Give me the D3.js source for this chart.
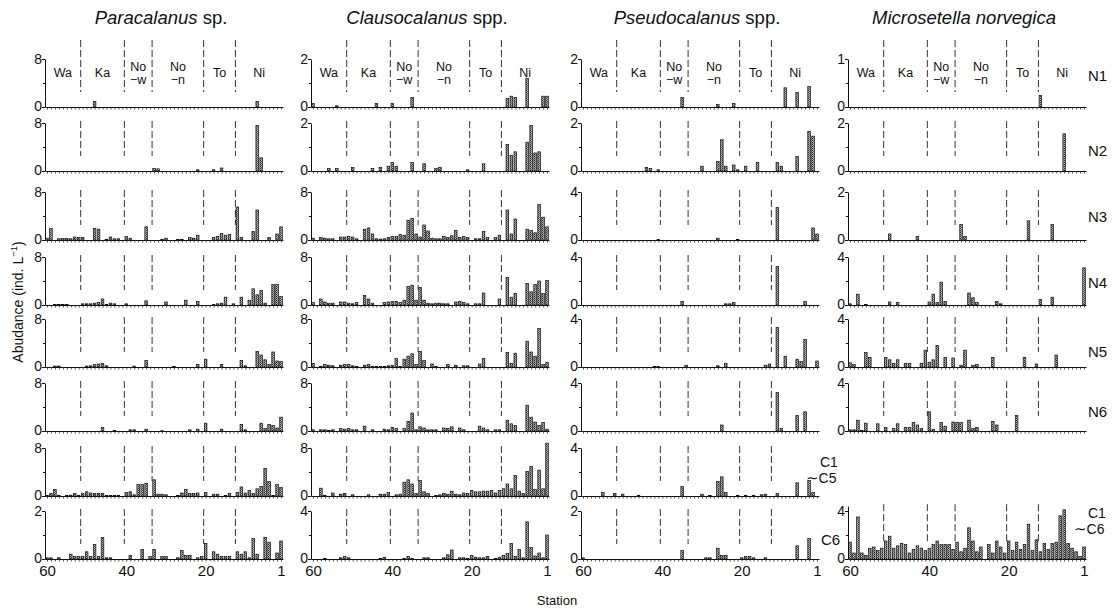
<!DOCTYPE html>
<html>
<head>
<meta charset="utf-8">
<script src="https://cdn.jsdelivr.net/npm/d3@7"></script>
<style>
  body { margin: 0; background: #fff; }
  text { font-family: "Liberation Sans", Arial, sans-serif; fill: #111; }
</style>
</head>
<body>
<svg id="chart" width="1115" height="614"></svg>
<script>
// stations run 60 (west) -> 1 (east)
const stations = d3.range(60, 0, -1);
const stationLabels = [60, 40, 20, 1];
const stages = ["N1", "N2", "N3", "N4", "N5", "N6", "C1~C5", "C6"];

// sea areas, with the first station of each
const regionNames = ["Wa", "Ka", "No|−w", "No|−n", "To", "Ni"];
const regionFirst = [60, 51, 40, 33, 20, 12];

const titles = [["Paracalanus", " sp."], ["Clausocalanus", " spp."],
                ["Pseudocalanus", " spp."], ["Microsetella norvegica", ""]];

// y-axis top tick per stage row
const paracalanusMax = [8, 8, 8, 8, 8, 8, 8, 2];
const clausocalanusMax = [2, 2, 8, 8, 8, 8, 8, 4];
const pseudocalanusMax = [2, 2, 4, 4, 4, 4, 4, 2];
const microsetellaMax = [1, 2, 2, 4, 4, 4, null, 4];

// abundance, ind. L-1, {station: value}; stations not listed are 0
const paracalanus = [
  {48: 0.9, 7: 0.9},
  {33: 0.4, 32: 0.35, 22: 0.2, 18: 0.2, 16: 0.5, 7: 7.6, 6: 2.2},
  {60: 0.3, 59: 1.9, 57: 0.2, 56: 0.25, 55: 0.25, 54: 0.2, 53: 0.5, 52: 0.4, 51: 0.4, 48: 1.9, 47: 1.8,
   45: 0.1, 44: 0.5, 43: 0.2, 42: 0.2, 40: 0.6, 39: 0.3, 35: 2.2, 31: 0.1, 30: 0.3, 27: 0.1, 26: 0.1,
   24: 0.4, 23: 0.3, 22: 0.8, 18: 0.4, 17: 0.6, 16: 1.1, 15: 0.8, 14: 0.9, 12: 5.5, 11: 0.4, 8: 1.4,
   7: 5.0, 4: 0.4, 2: 1.0, 1: 2.2},
  {58: 0.1, 57: 0.1, 56: 0.1, 55: 0.1, 51: 0.2, 50: 0.2, 49: 0.2, 48: 0.3, 47: 0.4, 46: 1.0, 45: 0.1,
   44: 0.3, 43: 0.2, 40: 0.2, 35: 0.7, 30: 0.5, 25: 0.8, 22: 0.6, 18: 0.1, 17: 0.2, 16: 0.3, 15: 1.3,
   13: 0.2, 11: 1.3, 9: 0.8, 8: 2.7, 7: 1.7, 6: 2.4, 5: 0.3, 3: 3.4, 2: 3.4, 1: 1.4},
  {58: 0.15, 57: 0.15, 50: 0.15, 49: 0.2, 48: 0.4, 47: 0.5, 46: 0.6, 45: 0.2, 38: 0.15, 35: 1.1,
   28: 0.1, 22: 0.4, 20: 1.3, 16: 0.4, 11: 1.1, 10: 0.2, 7: 2.6, 6: 2.0, 5: 1.2, 4: 0.4, 3: 2.5,
   2: 1.0, 1: 0.9},
  {46: 0.6, 43: 0.1, 39: 0.2, 38: 0.2, 35: 0.3, 31: 0.05, 24: 0.2, 22: 0.3, 20: 1.3, 16: 0.3,
   11: 1.1, 10: 0.2, 6: 1.3, 5: 0.4, 4: 1.1, 3: 0.9, 2: 0.5, 1: 2.3},
  {60: 0.1, 59: 0.4, 58: 1.1, 57: 0.1, 55: 0.1, 54: 0.15, 53: 0.4, 52: 0.1, 51: 0.4, 50: 0.7,
   49: 0.5, 48: 0.4, 47: 0.4, 46: 0.4, 45: 0.1, 44: 0.1, 43: 0.1, 42: 0.1, 40: 0.6, 39: 0.7,
   38: 0.2, 37: 1.9, 36: 1.9, 35: 2.1, 33: 2.7, 32: 0.3, 31: 0.3, 30: 0.2, 27: 0.1, 26: 0.5,
   25: 1.1, 24: 0.4, 23: 0.4, 22: 0.5, 20: 0.6, 18: 0.3, 17: 0.3, 15: 0.1, 14: 0.4, 12: 0.6,
   11: 1.5, 10: 0.5, 9: 0.9, 8: 0.4, 7: 1.2, 6: 1.6, 5: 4.6, 4: 2.4, 3: 0.1, 2: 1.9, 1: 1.4},
  {60: 0.05, 59: 0.05, 57: 0.05, 54: 0.2, 53: 0.1, 52: 0.1, 51: 0.1, 50: 0.3, 49: 0.1, 48: 0.6,
   47: 0.1, 46: 0.9, 45: 0.05, 44: 0.05, 39: 0.15, 36: 0.4, 34: 0.1, 33: 0.4, 31: 0.1, 30: 0.1,
   27: 0.05, 26: 0.35, 25: 0.15, 24: 0.15, 22: 0.05, 21: 0.1, 20: 0.65, 18: 0.3, 17: 0.2, 16: 0.1,
   15: 0.1, 14: 0.1, 12: 0.3, 11: 0.2, 10: 0.3, 9: 0.05, 8: 0.85, 7: 0.2, 5: 0.9, 4: 0.7, 2: 0.25,
   1: 0.75}
];

const clausocalanus = [
  {60: 0.15, 54: 0.05, 44: 0.15, 40: 0.15, 35: 0.4, 11: 0.35, 10: 0.45, 9: 0.4, 6: 1.2, 2: 0.45, 1: 0.45},
  {56: 0.1, 54: 0.1, 50: 0.15, 45: 0.1, 43: 0.15, 41: 0.2, 40: 0.35, 39: 0.2, 35: 0.35, 32: 0.3,
   29: 0.1, 28: 0.15, 21: 0.05, 17: 0.3, 11: 1.1, 10: 0.65, 9: 0.8, 6: 1.2, 5: 1.9, 4: 0.75, 3: 0.8},
  {60: 0.3, 58: 0.4, 57: 0.3, 56: 0.2, 55: 0.2, 53: 0.5, 52: 0.5, 51: 0.6, 50: 0.5, 49: 0.2,
   47: 1.8, 46: 2.0, 45: 1.0, 44: 0.2, 43: 0.15, 42: 0.2, 41: 0.4, 40: 0.6, 39: 0.6, 38: 0.9,
   37: 0.8, 36: 3.3, 35: 3.6, 34: 1.0, 33: 0.5, 32: 2.5, 31: 1.5, 30: 0.3, 29: 0.2, 28: 0.2,
   27: 0.6, 26: 0.4, 25: 0.7, 24: 1.6, 23: 0.4, 22: 0.6, 21: 0.4, 19: 0.2, 18: 0.2, 17: 1.4,
   16: 0.4, 14: 0.4, 13: 0.8, 11: 5.0, 10: 1.0, 9: 3.5, 6: 1.8, 5: 1.6, 4: 1.2, 3: 5.9, 2: 3.8, 1: 2.2},
  {60: 0.4, 58: 1.0, 57: 0.5, 56: 0.3, 55: 0.3, 53: 0.5, 52: 0.5, 51: 0.3, 50: 0.2, 49: 0.4,
   47: 1.6, 46: 1.0, 45: 0.3, 42: 0.4, 41: 0.5, 40: 0.6, 39: 0.6, 38: 0.4, 37: 0.8, 36: 3.1,
   35: 3.3, 34: 0.8, 33: 2.9, 32: 0.8, 31: 0.3, 30: 0.2, 29: 0.3, 28: 0.3, 27: 0.2, 26: 0.2,
   24: 0.5, 23: 0.6, 22: 0.4, 21: 0.2, 19: 0.2, 18: 0.2, 17: 2.0, 13: 1.0, 11: 4.6, 10: 1.3,
   9: 1.9, 6: 3.6, 5: 2.2, 4: 3.4, 3: 4.0, 2: 1.9, 1: 4.1},
  {60: 0.6, 58: 0.1, 57: 0.4, 56: 0.3, 55: 0.2, 53: 0.3, 52: 0.4, 51: 0.4, 50: 0.2, 49: 0.1,
   47: 0.3, 46: 0.4, 45: 0.1, 44: 0.1, 43: 0.1, 42: 0.1, 41: 0.2, 40: 0.3, 39: 1.4, 38: 0.1,
   37: 1.3, 36: 1.8, 35: 2.2, 34: 0.4, 33: 2.6, 32: 1.1, 30: 0.5, 29: 0.1, 26: 0.4, 24: 0.3,
   22: 0.2, 21: 0.2, 18: 0.5, 17: 1.4, 11: 2.4, 10: 0.6, 9: 2.3, 6: 4.3, 5: 2.5, 4: 1.8, 3: 6.4,
   2: 0.4, 1: 0.8},
  {60: 0.2, 58: 0.2, 57: 0.2, 56: 0.1, 55: 0.2, 53: 0.4, 52: 0.3, 51: 0.4, 50: 0.2, 49: 0.2,
   47: 0.8, 45: 0.2, 42: 0.3, 41: 0.2, 40: 0.6, 39: 0.4, 37: 0.4, 36: 1.6, 35: 3.0, 34: 0.2,
   33: 0.7, 32: 0.5, 31: 0.2, 30: 0.2, 29: 0.2, 27: 0.5, 26: 0.4, 25: 0.7, 23: 0.5, 22: 0.2,
   18: 0.8, 17: 0.5, 16: 0.2, 14: 0.2, 13: 0.2, 11: 1.8, 10: 1.2, 9: 0.9, 6: 4.3, 5: 2.3, 4: 1.5,
   3: 0.9, 2: 1.4, 1: 0.3},
  {58: 1.3, 57: 0.1, 55: 0.5, 53: 0.3, 52: 0.4, 50: 0.2, 46: 0.2, 43: 0.3, 42: 0.3, 41: 0.6,
   39: 0.2, 38: 0.3, 37: 2.3, 36: 2.7, 35: 2.0, 34: 0.4, 33: 2.6, 32: 0.7, 31: 0.4, 29: 0.1,
   28: 0.2, 27: 0.4, 26: 0.3, 25: 0.8, 24: 0.3, 23: 0.2, 22: 0.5, 21: 0.4, 20: 0.9, 19: 0.7,
   18: 0.7, 17: 0.8, 16: 0.8, 15: 0.9, 14: 0.5, 13: 0.9, 12: 1.2, 11: 2.0, 10: 1.2, 9: 3.4,
   8: 0.8, 7: 0.4, 6: 4.1, 5: 4.9, 4: 1.1, 3: 4.3, 2: 1.2, 1: 8.8},
  {57: 0.05, 53: 0.1, 52: 0.2, 51: 0.1, 43: 0.05, 42: 0.15, 37: 0.05, 36: 0.2, 35: 0.05, 32: 0.1,
   31: 0.1, 27: 0.1, 26: 0.35, 25: 0.75, 23: 0.1, 22: 0.1, 21: 0.05, 20: 0.3, 19: 0.15, 18: 0.1,
   17: 0.1, 16: 0.2, 14: 0.05, 13: 0.15, 12: 0.3, 11: 0.45, 10: 1.3, 9: 0.2, 8: 0.8, 7: 0.1,
   6: 3.1, 5: 0.95, 4: 0.25, 3: 0.5, 2: 0.1, 1: 2.0}
];

const pseudocalanus = [
  {35: 0.4, 26: 0.1, 22: 0.15, 9: 0.8, 6: 0.6, 3: 0.85},
  {44: 0.15, 43: 0.1, 41: 0.05, 30: 0.2, 26: 0.4, 25: 1.3, 24: 0.2, 22: 0.25, 21: 0.05, 19: 0.2,
   16: 0.35, 11: 0.35, 10: 0.2, 6: 0.6, 3: 1.65, 2: 1.45},
  {41: 0.05, 26: 0.15, 21: 0.05, 11: 2.7, 2: 1.0, 1: 0.5},
  {35: 0.3, 24: 0.1, 23: 0.1, 22: 0.2, 11: 3.2, 4: 0.3},
  {42: 0.05, 41: 0.05, 34: 0.15, 26: 0.1, 24: 0.3, 14: 0.15, 13: 0.25, 11: 3.3, 9: 0.9, 6: 0.65,
   5: 0.45, 4: 2.3, 1: 0.5},
  {25: 0.5, 11: 3.2, 10: 0.2, 6: 1.3, 4: 1.6},
  {55: 0.3, 52: 0.2, 50: 0.15, 46: 0.05, 35: 0.8, 30: 0.15, 28: 0.05, 26: 1.2, 25: 1.6, 24: 0.3,
   21: 0.05, 19: 0.05, 17: 0.05, 15: 0.1, 14: 0.15, 11: 0.2, 6: 1.1, 3: 1.3, 2: 0.3},
  {60: 0.05, 35: 0.35, 29: 0.05, 28: 0.05, 26: 0.45, 25: 0.15, 24: 0.15, 20: 0.05, 19: 0.1,
   18: 0.1, 17: 0.05, 14: 0.05, 6: 0.55, 3: 0.85}
];

const microsetella = [
  {12: 0.24},
  {6: 1.55},
  {50: 0.25, 43: 0.15, 32: 0.65, 31: 0.15, 15: 0.8, 9: 0.65},
  {60: 0.1, 58: 0.9, 56: 0.05, 50: 0.25, 48: 0.2, 40: 0.25, 39: 0.9, 38: 0.2, 37: 1.9, 36: 0.3,
   30: 1.0, 29: 0.6, 28: 0.2, 23: 0.3, 22: 0.1, 12: 0.45, 9: 0.65, 1: 3.1},
  {60: 0.35, 59: 0.2, 56: 1.2, 55: 0.8, 51: 0.8, 50: 0.6, 49: 0.3, 48: 0.6, 46: 0.3, 45: 0.3,
   42: 0.3, 41: 1.4, 40: 0.4, 39: 0.6, 38: 1.8, 36: 0.8, 34: 0.75, 32: 0.15, 31: 1.4, 29: 0.15,
   28: 0.2, 24: 0.8, 16: 0.8, 13: 0.25, 8: 1.0},
  {60: 0.1, 59: 0.1, 58: 0.9, 57: 0.05, 56: 0.65, 53: 0.6, 51: 0.3, 49: 0.2, 48: 0.6, 46: 0.3,
   45: 0.3, 44: 0.7, 43: 0.5, 42: 0.2, 40: 1.6, 39: 0.15, 37: 0.7, 36: 0.4, 34: 0.75, 33: 0.7,
   32: 0.7, 30: 0.9, 29: 0.2, 28: 0.3, 24: 0.8, 23: 0.5, 18: 1.3},
  null,
  {60: 1.4, 59: 0.5, 58: 3.5, 57: 0.5, 56: 0.3, 55: 0.9, 54: 1.0, 53: 0.7, 52: 0.9, 51: 1.5,
   50: 1.9, 49: 0.9, 48: 1.1, 47: 1.3, 46: 1.2, 45: 0.5, 44: 0.8, 43: 1.1, 42: 0.9, 41: 0.7,
   40: 0.9, 39: 1.2, 38: 1.5, 37: 1.2, 36: 1.2, 35: 1.2, 34: 0.8, 33: 1.4, 32: 0.6, 31: 0.9,
   30: 2.6, 29: 1.5, 28: 0.6, 27: 1.0, 25: 1.2, 24: 0.5, 23: 1.5, 22: 1.0, 21: 0.5, 20: 1.5,
   19: 0.7, 18: 1.4, 17: 0.8, 16: 1.2, 15: 2.9, 14: 0.7, 13: 1.6, 12: 0.6, 11: 1.3, 10: 0.8,
   9: 1.3, 8: 1.4, 7: 3.6, 6: 4.1, 5: 1.3, 4: 0.9, 3: 0.6, 2: 0.2, 1: 1.0}
];

const columns = [
  {values: paracalanus, max: paracalanusMax},
  {values: clausocalanus, max: clausocalanusMax},
  {values: pseudocalanus, max: pseudocalanusMax},
  {values: microsetella, max: microsetellaMax}
];

// layout
const colX = [45, 311, 581, 848];
const rowBase = [107, 171, 240, 305, 367, 431, 496, 559];
const panelH = 48;
const plotW = 238;
const barW = 2.6;

const svg = d3.select("#chart");

const pat = svg.append("defs").append("pattern")
  .attr("id", "stipple").attr("patternUnits", "userSpaceOnUse")
  .attr("width", 2).attr("height", 2);
pat.append("rect").attr("width", 2).attr("height", 2).attr("fill", "#b4b4b4");
pat.append("rect").attr("width", 1).attr("height", 1).attr("fill", "#333");
pat.append("rect").attr("x", 1).attr("y", 1).attr("width", 1).attr("height", 1).attr("fill", "#666");

const bounds = regionFirst.slice(1).map(s => s + 0.5);
const mids = regionFirst.map((s, i) => ((s + 0.5) + (i + 1 < regionFirst.length ? regionFirst[i + 1] + 0.5 : 0.5)) / 2);

columns.forEach((col, ci) => {
  const x0 = colX[ci];
  const x = d3.scaleLinear().domain([60.5, 0.5]).range([x0, x0 + plotW]);

  // title
  const t = svg.append("text")
    .attr("x", x0 + 116).attr("y", 24)
    .attr("text-anchor", "middle")
    .attr("font-size", 18.5);
  t.append("tspan").attr("font-style", "italic").text(titles[ci][0]);
  t.append("tspan").text(titles[ci][1]);

  col.values.forEach((vals, ri) => {
    if (vals === null) return;
    const base = rowBase[ri];
    const max = col.max[ri];
    const top = (ci === 3 && ri === 7) ? max * 1.1 : max;
    const y = d3.scaleLinear().domain([0, top]).range([base, base - panelH * top / max]);
    const g = svg.append("g");

    // region dividers
    const dTop = ri === 0 ? 40 : y(top) - 2;
    g.selectAll("line.div").data(bounds).join("line")
      .attr("x1", d => x(d)).attr("x2", d => x(d))
      .attr("y1", dTop).attr("y2", base - 15)
      .attr("stroke", "#333").attr("stroke-width", 1)
      .attr("stroke-dasharray", "7,3");

    if (ri === 0) {
      regionNames.forEach((name, k) => {
        const lines = name.split("|");
        lines.forEach((ln, li) => {
          g.append("text")
            .attr("x", x(mids[k]))
            .attr("y", lines.length > 1 ? 71 + li * 12.5 : 77)
            .attr("text-anchor", "middle")
            .attr("font-size", 12.5)
            .text(ln);
        });
      });
    }

    // bars
    const data = stations.map(s => ({s, v: vals[s] || 0})).filter(d => d.v > 0);
    g.selectAll("rect.bar").data(data).join("rect")
      .attr("x", d => x(d.s) - barW / 2)
      .attr("width", barW)
      .attr("y", d => y(d.v))
      .attr("height", d => y(0) - y(d.v))
      .attr("fill", "url(#stipple)")
      .attr("stroke", "#111").attr("stroke-width", 0.7);

    // x axis with a tick per station
    const isBottom = ri === 7;
    const xa = g.append("g").attr("transform", `translate(0,${base})`)
      .call(d3.axisBottom(x).tickValues(stations).tickSize(2.5).tickSizeOuter(0)
        .tickFormat(d => isBottom && stationLabels.includes(d) ? d : ""));
    xa.select(".domain").attr("stroke", "#111").attr("stroke-width", 1.2);
    xa.selectAll(".tick line").attr("stroke", "#222").attr("stroke-width", 0.8);
    xa.selectAll(".tick text").attr("font-size", 15).attr("font-family", "Liberation Sans, Arial, sans-serif")
      .attr("fill", "#111").attr("y", 6.5);

    // y axis: 0, mid, max
    const ya = g.append("g").attr("transform", `translate(${x0},0)`)
      .call(d3.axisLeft(y).tickValues([0, max / 2, max]).tickSize(3).tickSizeOuter(0)
        .tickFormat(d => (d === 0 || d === max) ? d : ""));
    ya.select(".domain").attr("stroke", "#111").attr("stroke-width", 1);
    ya.selectAll(".tick line").attr("stroke", "#111")
      .attr("x2", d => d === max / 2 ? -2 : -3);
    ya.selectAll(".tick text").attr("font-size", 14).attr("font-family", "Liberation Sans, Arial, sans-serif")
      .attr("fill", "#111").attr("x", -3).attr("dy", d => d === 0 ? "0.25em" : "0.32em");
  });
});

// stage labels on the right side
const stageLabelY = [76, 151, 217, 283, 352, 412];
stageLabelY.forEach((yy, i) => {
  svg.append("text").attr("x", 1088).attr("y", yy).attr("dy", "0.35em")
    .attr("font-size", 15).text(stages[i]);
});
function rangeLabel(xx, yy, a, b) {
  svg.append("text").attr("x", xx + 14).attr("y", yy).attr("dy", "0.35em")
    .attr("font-size", 14).text(a);
  const tx = svg.append("text").attr("x", xx).attr("y", yy + 16).attr("font-size", 14);
  tx.append("tspan").attr("dy", "0.35em").attr("font-family", "DejaVu Sans").attr("font-size", 15).text("∼");
  tx.append("tspan").text(b);
}
rangeLabel(806, 462, "C1", "C5");
svg.append("text").attr("x", 821).attr("y", 540).attr("dy", "0.35em").attr("font-size", 15).text("C6");
rangeLabel(1074, 513, "C1", "C6");

// axis titles
const yt = svg.append("text")
  .attr("transform", "translate(23,302) rotate(-90)")
  .attr("text-anchor", "middle").attr("font-size", 14);
yt.append("tspan").text("Abudance (ind. L");
yt.append("tspan").attr("dy", -6).attr("font-size", 9.5).text("−1");
yt.append("tspan").attr("dy", 6).text(")");

svg.append("text").attr("x", 557).attr("y", 605).attr("text-anchor", "middle")
  .attr("font-size", 13).text("Station");
</script>
</body>
</html>
